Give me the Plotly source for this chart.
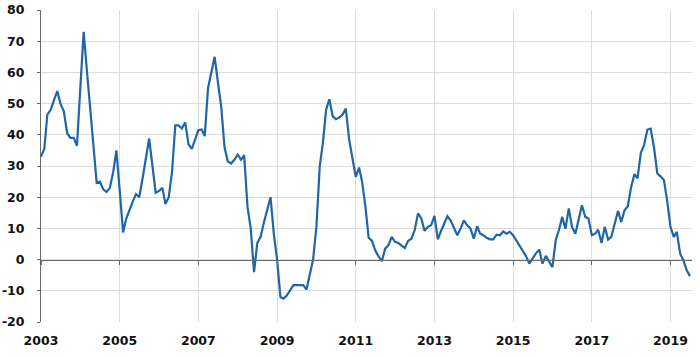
import pandas as pd
import plotly.graph_objects as go

start_month = "2003-01-01"
values = [
    33, 35.5, 46.5, 48, 51, 54, 50, 47.5, 40.5, 39, 39, 36.5,
    55, 73, 61, 49, 37, 24.6, 25, 22.5, 21.7, 23, 28, 35,
    22, 8.7, 13, 16, 18.5, 21, 20, 26, 32, 38.8, 30, 21.4,
    22, 23, 17.8, 20, 28, 43, 43, 42, 44, 37, 35.5, 38.5,
    41.5, 41.7, 39.6, 55, 60, 65, 57, 49, 36, 31.5, 30.8, 32,
    33.7, 32, 33.5, 17, 10, -4, 5.3, 7.3, 12, 16, 20, 8.5,
    0, -12, -12.5, -11.5, -10, -8.2, -8.2, -8.2, -8.2, -9.6, -5, 0,
    10.5, 30, 37, 48, 51.4, 46, 45, 45.5, 46.5, 48.4, 38.5, 32,
    26.5, 29.5, 25, 17, 7, 6, 3, 1, -0.5, 3.5, 4.6, 7.3,
    5.7, 5.3, 4.5, 3.7, 6, 6.7, 9.4, 14.8, 13.2, 9.2, 10.5, 11,
    14, 6.5, 9, 11.3, 13.9, 12.5, 10, 7.8, 10, 12.6, 11, 10,
    6.7, 10.7, 8.3, 7.8, 7, 6.5, 6.5, 8, 7.8, 9, 8.3, 8.9,
    7.8, 6, 4.6, 2.8, 1.1, -1.3, 0.3, 2, 3.2, -1.3, 1.2, -0.7,
    -2.4, 6.2, 9.4, 13.7, 9.9, 16.4, 10.5, 8.3, 12.6, 17.4, 13.7, 13.2,
    7.8, 8.3, 9.6, 5.3, 10.5, 6.4, 7.3, 11.8, 15.6, 12.1, 15.8, 17.1,
    23.3, 27.4, 26, 34.2, 36.7, 41.7, 42, 36, 27.6, 26.7, 25.5, 19,
    10.5, 7.3, 8.9, 1.9, -0.2, -3.4, -5.3,
]
dates = pd.date_range(start_month, periods=len(values), freq="MS")

tick_years = [2003, 2005, 2007, 2009, 2011, 2013, 2015, 2017, 2019]
tick_vals = [f"{y}-01-01" for y in tick_years]
tick_text = [str(y) for y in tick_years]
y_ticks = [-20, -10, 0, 10, 20, 30, 40, 50, 60, 70, 80]
y_text = [str(v) for v in y_ticks]

font = dict(family="DejaVu Sans", size=12.5, color="#111111", weight="bold")

fig = go.Figure()
fig.add_trace(go.Scatter(x=dates, y=values, mode="lines",
                         line=dict(color="#1f66a6", width=2.2)))
# invisible trace on the secondary axis so it draws
fig.add_trace(go.Scatter(x=[dates[0]], y=[0], xaxis="x2", mode="markers",
                         marker=dict(opacity=0), hoverinfo="skip"))

x_range = ["2003-01-01", "2019-07-20"]

fig.update_layout(
    width=700, height=357,
    margin=dict(l=41, r=8, t=10, b=35, autoexpand=False),
    paper_bgcolor="white", plot_bgcolor="white",
    showlegend=False,
    xaxis=dict(
        type="date", range=x_range, automargin=False,
        tickvals=tick_vals, ticktext=tick_text, tickfont=font,
        showgrid=True, gridcolor="#dcdcdc", gridwidth=1,
        showline=False, zeroline=False, ticks="", ticklabelstandoff=9,
    ),
    xaxis2=dict(
        type="date", range=x_range, overlaying="x", automargin=False,
        anchor="free", position=0.2, tickvals=tick_vals,
        showticklabels=False, showgrid=False, showline=True,
        linecolor="#6b6b6b", linewidth=1, ticks="outside", ticklen=4,
        tickcolor="#6b6b6b",
    ),
    yaxis=dict(
        range=[-20, 80], tickvals=y_ticks, ticktext=y_text, tickfont=font,
        automargin=False,
        showgrid=True, gridcolor="#dcdcdc", gridwidth=1,
        showline=True, linecolor="#6b6b6b", linewidth=1,
        ticks="outside", ticklen=3, tickcolor="#6b6b6b",
        zeroline=False, ticklabelstandoff=10,
    ),
)

fig.write_html("out.html", config={"displayModeBar": False},
               post_script="document.body.style.margin='0px';")
